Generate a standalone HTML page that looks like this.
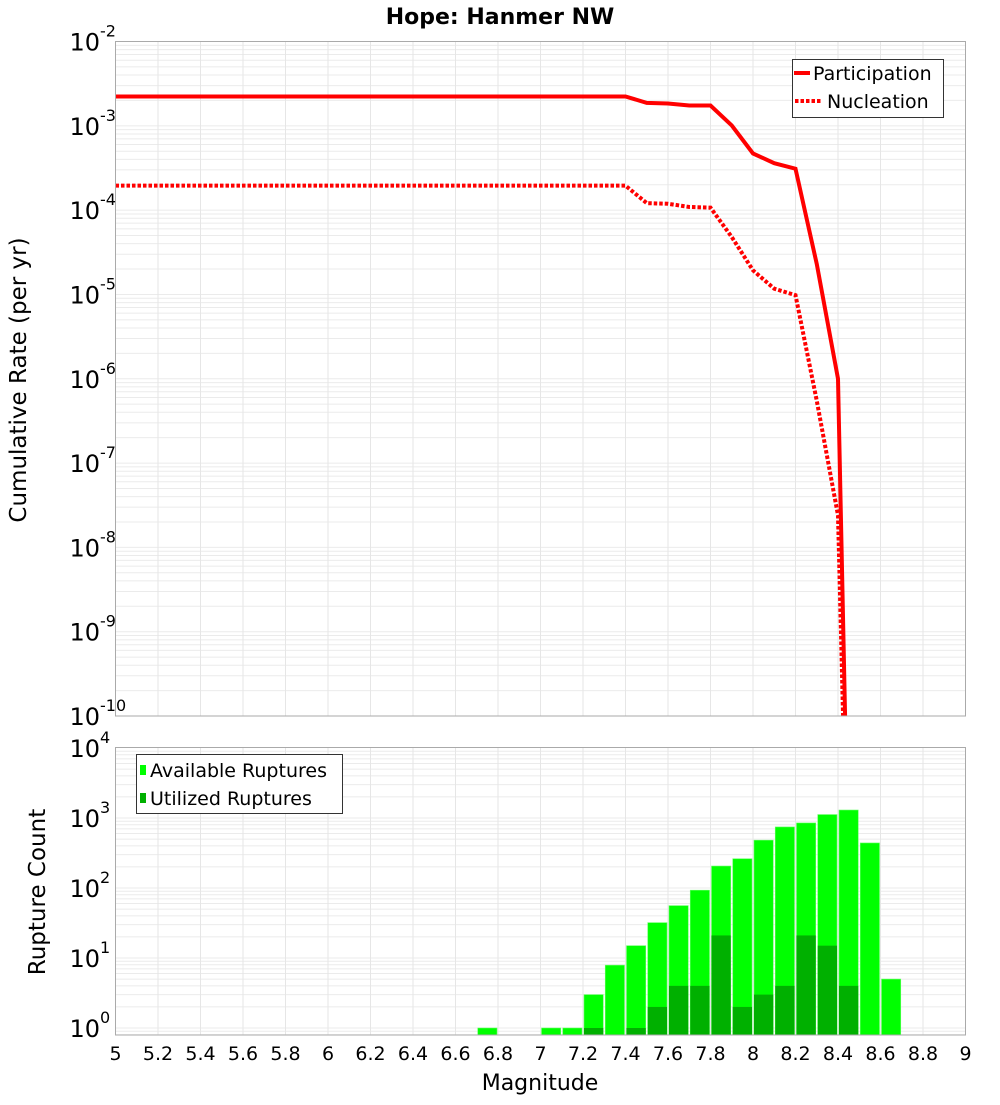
<!DOCTYPE html>
<html><head><meta charset="utf-8"><style>
body{margin:0;background:#fff;}
svg text{font-family:"DejaVu Sans","Liberation Sans",sans-serif;fill:#000;}
</style></head><body>
<svg id="c" width="1000" height="1100" viewBox="0 0 1000 1100" xmlns="http://www.w3.org/2000/svg">
<text x="500" y="24" text-anchor="middle" font-size="22" font-weight="bold">Hope: Hanmer NW</text>
<g id="gtop"></g><g id="gbot"></g>
<text transform="translate(26,380) rotate(-90)" text-anchor="middle" font-size="23">Cumulative Rate (per yr)</text>
<text transform="translate(45,892) rotate(-90)" text-anchor="middle" font-size="23">Rupture Count</text>
<text x="540" y="1090" text-anchor="middle" font-size="22">Magnitude</text>
</svg>
<script>
const magsLine=[5.0,5.1,5.2,5.3,5.4,5.5,5.6,5.7,5.8,5.9,6.0,6.1,6.2,6.3,6.4,6.5,6.6,6.7,6.8,6.9,7.0,7.1,7.2,7.3,7.4,7.5,7.6,7.7,7.8,7.9,8.0,8.1,8.2,8.3,8.4,8.5];
const participation=[2.23e-3,2.23e-3,2.23e-3,2.23e-3,2.23e-3,2.23e-3,2.23e-3,2.23e-3,2.23e-3,2.23e-3,2.23e-3,2.23e-3,2.23e-3,2.23e-3,2.23e-3,2.23e-3,2.23e-3,2.23e-3,2.23e-3,2.23e-3,2.23e-3,2.23e-3,2.23e-3,2.23e-3,2.23e-3,1.87e-3,1.84e-3,1.74e-3,1.74e-3,1.01e-3,4.7e-4,3.6e-4,3.1e-4,2.3e-5,1.0e-6,1e-18];
const nucleation=[1.95e-4,1.95e-4,1.95e-4,1.95e-4,1.95e-4,1.95e-4,1.95e-4,1.95e-4,1.95e-4,1.95e-4,1.95e-4,1.95e-4,1.95e-4,1.95e-4,1.95e-4,1.95e-4,1.95e-4,1.95e-4,1.95e-4,1.95e-4,1.95e-4,1.95e-4,1.95e-4,1.95e-4,1.95e-4,1.21e-4,1.19e-4,1.09e-4,1.07e-4,4.8e-5,1.93e-5,1.17e-5,9.8e-6,5.5e-7,2.4e-8,2.5e-18];
const barMags=[6.7,7.0,7.1,7.2,7.3,7.4,7.5,7.6,7.7,7.8,7.9,8.0,8.1,8.2,8.3,8.4,8.5,8.6];
const available=[1,1,1,3,7.9,15,32,56,93,206,262,482,745,850,1120,1300,440,5];
const utilized=[0,0,0,1,0,1,2,4,4,21,2,3,4,21,15,4,0,0];
const xTicks=["5","5.2","5.4","5.6","5.8","6","6.2","6.4","6.6","6.8","7","7.2","7.4","7.6","7.8","8","8.2","8.4","8.6","8.8","9"];
const topExps=[-10,-9,-8,-7,-6,-5,-4,-3,-2];
const botExps=[0,1,2,3,4];

const NS="http://www.w3.org/2000/svg";
const L=115.5,R=965.5;
const x=m=>L+(m-5)/4*(R-L);
const T1=41.5,B1=716;
const yTop=v=>B1-(Math.log10(v)+10)/8*(B1-T1);
const T2=747.5,B2=1035;
const y1=1028;const yBot=v=>y1-70*Math.log10(v);
function el(p,t,a){const e=document.createElementNS(NS,t);for(const k in a)e.setAttribute(k,a[k]);p.appendChild(e);return e;}
const gTop=document.getElementById('gtop'),gBot=document.getElementById('gbot');

function grid(g,T,B,yf,e0,e1){
  for(let e=e0;e<=e1;e++)for(let k=1;k<10;k++){const yy=yf(k*Math.pow(10,e));if(yy<T-0.1||yy>B+0.1)continue;
    const ln=el(g,'line',{x1:L,x2:R,y1:yy,y2:yy,stroke:'#ebebeb','stroke-width':1});
    
    }
  for(let i=0;i<xTicks.length;i++){const xx=x(+xTicks[i]);
    const ln=el(g,'line',{x1:xx,x2:xx,y1:T,y2:B,stroke:'#e6e6e6','stroke-width':1});
    
    }
}
function ylabels(g,exps,yf){
  exps.forEach(e=>{const yy=yf(Math.pow(10,e));
    const t=el(g,'text',{x:100,y:yy+9,'text-anchor':'end','font-size':24});t.textContent='10';
    
    
    const s=el(g,'text',{x:100,y:yy-5,'text-anchor':'start','font-size':16});s.textContent=String(e);
    
    });
}
// top
grid(gTop,T1,B1,yTop,-10,-3);
const cp=el(gTop,'clipPath',{id:'cl'});el(cp,'rect',{x:L,y:T1,width:R-L,height:B1-T1});
function line(arr,dash,name){const d=arr.map((v,i)=>(i?'L':'M')+x(magsLine[i]).toFixed(2)+' '+yTop(v).toFixed(2)).join(' ');
  const p=el(gTop,'path',{d:d,fill:'none',stroke:'#ff0000','stroke-width':4,'clip-path':'url(#cl)'});
  if(dash)p.setAttribute('stroke-dasharray',dash);
  
  }
line(participation,null,'participation-line');
line(nucleation,'3.5 2','nucleation-line');
const f1=el(gTop,'rect',{x:L,y:T1,width:R-L,height:B1-T1,fill:'none',stroke:'#aaa','stroke-width':1});


ylabels(gTop,topExps,yTop);
const lg=el(gTop,'g',{});


el(lg,'rect',{x:792.5,y:59.5,width:151,height:58,fill:'#fff',stroke:'#333','stroke-width':1});
el(lg,'line',{x1:794,x2:810,y1:73,y2:73,stroke:'#f00','stroke-width':4});
el(lg,'line',{x1:795,x2:821,y1:101,y2:101,stroke:'#f00','stroke-width':4,'stroke-dasharray':'3.5 2'});
let t=el(lg,'text',{x:813,y:80,'font-size':19});t.textContent='Participation';


t=el(lg,'text',{x:827,y:108,'font-size':19});t.textContent='Nucleation';



// bottom
grid(gBot,T2,B2,yBot,-1,3);
barMags.forEach((m,i)=>{const x0=x(m)+1,w=x(m+0.1)-x(m)-2;
  const ya=yBot(available[i]);
  const r=el(gBot,'rect',{x:x0,y:ya,width:w,height:B2-ya,fill:'#00ff00',stroke:'#66ff66','stroke-width':0.6});
  
  
  if(utilized[i]>0){const yu=yBot(utilized[i]);
    const u=el(gBot,'rect',{x:x0,y:yu,width:w,height:B2-yu,fill:'#00b000'});
    
    }
});
const f2=el(gBot,'rect',{x:L,y:T2,width:R-L,height:B2-T2,fill:'none',stroke:'#aaa','stroke-width':1});


ylabels(gBot,botExps,yBot);
xTicks.forEach(s=>{const t=el(gBot,'text',{x:x(+s),y:1060,'text-anchor':'middle','font-size':19});t.textContent=s;
  
  });
const lb=el(gBot,'g',{});


el(lb,'rect',{x:136.5,y:754.5,width:206,height:59,fill:'#fff',stroke:'#333','stroke-width':1});
el(lb,'rect',{x:140,y:765,width:6,height:10,fill:'#00ff00'});
el(lb,'rect',{x:140,y:793,width:6,height:10,fill:'#00b000'});
t=el(lb,'text',{x:150,y:777,'font-size':19});t.textContent='Available Ruptures';


t=el(lb,'text',{x:150,y:805,'font-size':19});t.textContent='Utilized Ruptures';


</script>
</body></html>
